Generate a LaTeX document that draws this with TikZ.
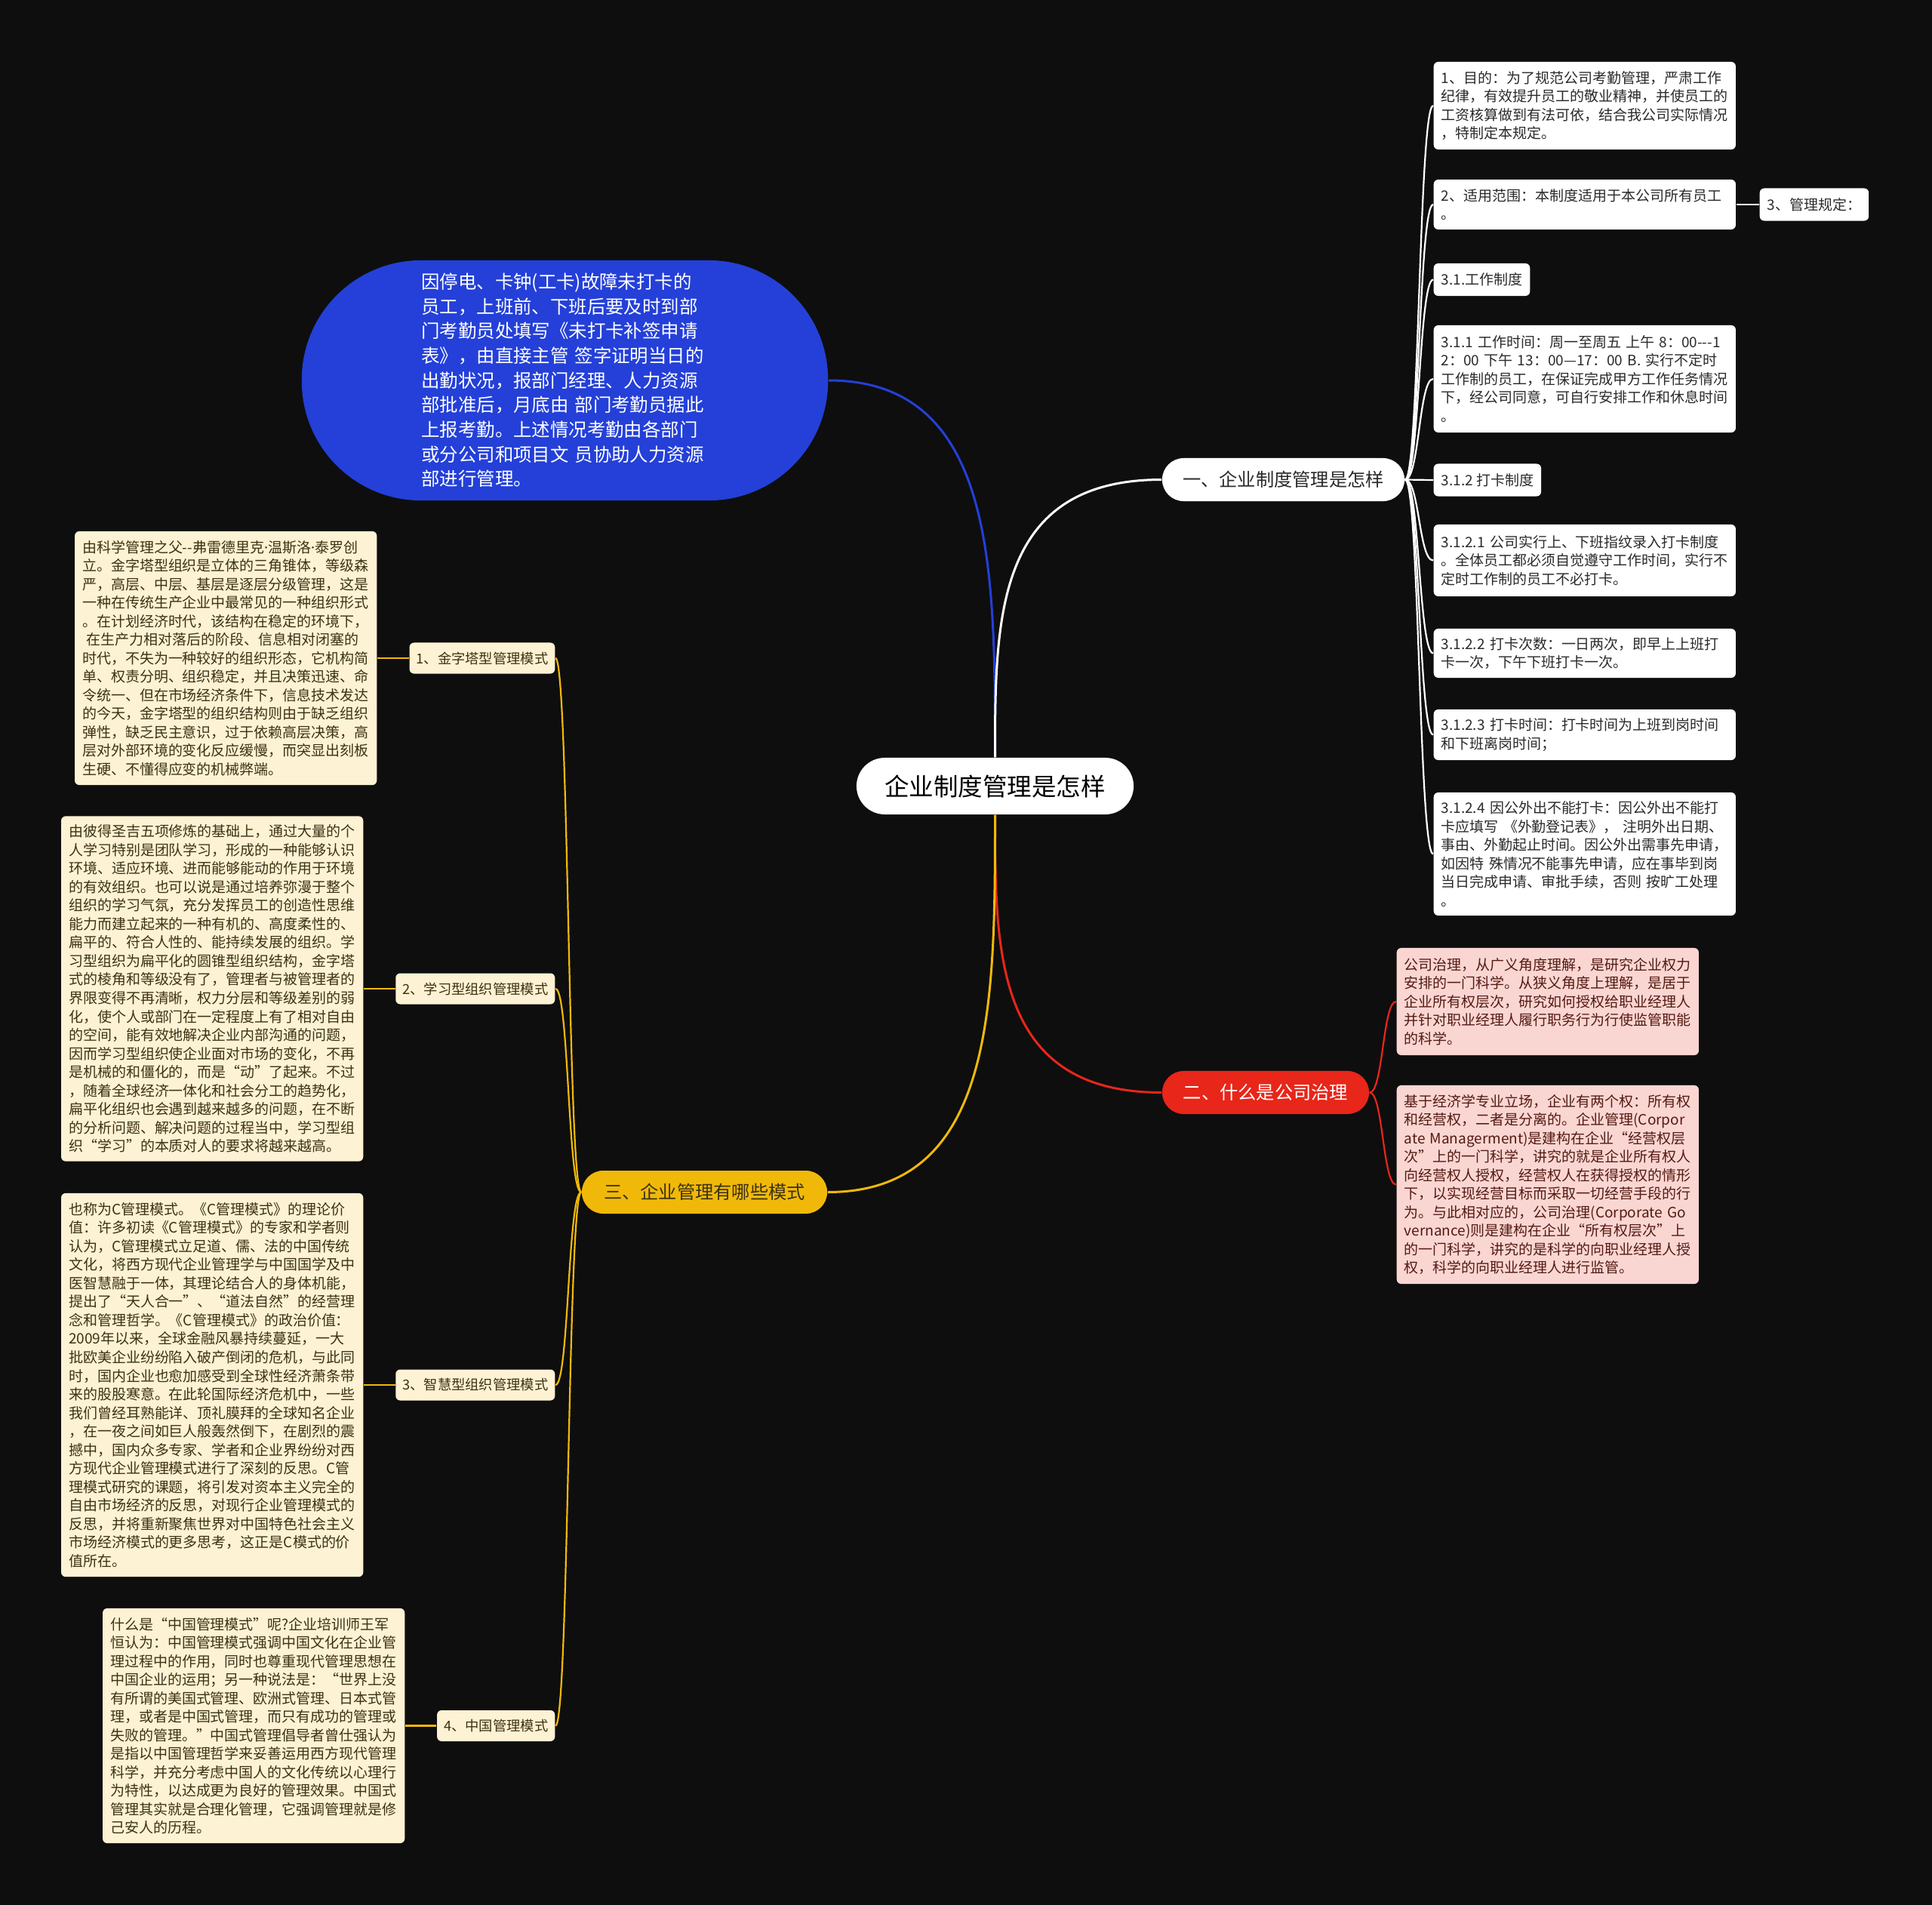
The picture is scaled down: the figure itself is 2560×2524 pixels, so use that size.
\documentclass[tikz,border=0pt]{standalone}
\usepackage{fontspec}
\usepackage{tikz}
\usetikzlibrary{calc}
\newfontfamily\cjk{Noto Sans CJK SC}
\newfontfamily\latinfont{Noto Sans}
\definecolor{bgdark}{RGB}{14,14,14}
\definecolor{blobblue}{RGB}{36,64,216}
\definecolor{branchred}{RGB}{232,38,26}
\definecolor{branchgold}{RGB}{240,185,10}
\definecolor{leafpink}{RGB}{250,214,210}
\definecolor{leafcream}{RGB}{253,242,212}
\definecolor{inkred}{RGB}{84,26,18}
\definecolor{inkbrown}{RGB}{60,50,18}
\definecolor{inkgray}{RGB}{42,42,42}
\newcommand{\middot}{{\latinfont ·}}

\begin{document}
\begin{tikzpicture}[x=0.01cm,y=-0.01cm,
  rootnode/.style={
    fill=white, text=black, rounded corners=0.375cm,
    minimum width=3.67cm, minimum height=0.75cm, inner sep=0pt,
    font=\cjk\fontsize{9.25}{11}\selectfont
  },
  blobnode/.style={
    fill=blobblue, text=white, rounded corners=1.58cm,
    minimum width=6.97cm, minimum height=3.18cm,
    text width=3.8cm, align=left,
    font=\cjk\fontsize{6.94}{9.29}\selectfont
  },
  topic/.style={
    rounded corners=0.285cm, minimum height=0.57cm, inner sep=0pt,
    font=\cjk\fontsize{6.9}{8}\selectfont
  },
  topicwhite/.style={topic, fill=white, text=inkgray},
  topicred/.style={topic, fill=branchred, text=white},
  topicgold/.style={topic, fill=branchgold, text=inkbrown},
  leaf/.style={
    rounded corners=0.06cm, inner xsep=0.1cm, inner ysep=0pt,
    minimum height=0.43cm, align=left,
    font=\cjk\fontsize{5.4}{6.97}\selectfont
  },
  longleaf/.style={leaf, text width=3.8cm},
  whiteleaf/.style={fill=white, text=inkgray, anchor=west},
  pinkleaf/.style={fill=leafpink, text=inkred, anchor=west},
  creamleaf/.style={fill=leafcream, text=inkbrown, anchor=east},
  modetag/.style={
    leaf, fill=leafcream, text=inkbrown, anchor=east,
    inner xsep=0.09cm, minimum height=0.41cm,
    font=\cjk\fontsize{5.2}{6.5}\selectfont
  },
  rootline/.style={line width=0.03cm},
  twig/.style={line width=0.022cm}
]
\fill[bgdark] (0,0) rectangle (2560,2524);
\useasboundingbox (0,0) rectangle (2560,2524);

\node[rootnode] (root) at (1318.5,1041.5) {企业制度管理是怎样};

\node[blobnode] (blob) at (748.5,504)
  {因停电、卡钟(工卡)故障未打卡的\\
   员工，上班前、下班后要及时到部\\
   门考勤员处填写《未打卡补签申请\\
   表》，由直接主管 签字证明当日的\\
   出勤状况，报部门经理、人力资源\\
   部批准后，月底由 部门考勤员据此\\
   上报考勤。上述情况考勤由各部门\\
   或分公司和项目文 员协助人力资源\\
   部进行管理。};

\node[topicwhite, minimum width=3.21cm] (b1) at (1700.5,635.5) {一、企业制度管理是怎样};
\node[topicred, minimum width=2.74cm] (b2) at (1677,1447.5) {二、什么是公司治理};
\node[topicgold, minimum width=3.25cm] (b3) at (933.5,1579.5) {三、企业管理有哪些模式};

% branch one
\node[longleaf, whiteleaf, minimum height=1.16cm] (r1) at (1899,140)
  {1、目的：为了规范公司考勤管理，严肃工作\\
   纪律，有效提升员工的敬业精神，并使员工的\\
   工资核算做到有法可依，结合我公司实际情况\\
   ，特制定本规定。};
\node[longleaf, whiteleaf, minimum height=0.66cm] (r2) at (1899,271)
  {2、适用范围：本制度适用于本公司所有员工\\
   。};
\node[leaf, whiteleaf] (r3) at (2331,271) {3、管理规定：};
\node[leaf, whiteleaf] (r31) at (1899,370.5) {3.1.工作制度};
\node[longleaf, whiteleaf, minimum height=1.42cm] (r311) at (1899,502)
  {3.1.1 工作时间：周一至周五 上午 8：00---1\\
   2：00 下午 13：00—17：00 B. 实行不定时\\
   工作制的员工，在保证完成甲方工作任务情况\\
   下，经公司同意，可自行安排工作和休息时间\\
   。};
\node[leaf, whiteleaf] (r312) at (1899,636) {3.1.2 打卡制度};
\node[longleaf, whiteleaf, minimum height=0.95cm] (r3121) at (1899,742.5)
  {3.1.2.1 公司实行上、下班指纹录入打卡制度\\
   。全体员工都必须自觉遵守工作时间，实行不\\
   定时工作制的员工不必打卡。};
\node[longleaf, whiteleaf, minimum height=0.65cm] (r3122) at (1899,865.5)
  {3.1.2.2 打卡次数：一日两次，即早上上班打\\
   卡一次，下午下班打卡一次。};
\node[longleaf, whiteleaf, minimum height=0.67cm] (r3123) at (1899,973.5)
  {3.1.2.3 打卡时间：打卡时间为上班到岗时间\\
   和下班离岗时间；};
\node[longleaf, whiteleaf, minimum height=1.63cm] (r3124) at (1899,1131.5)
  {3.1.2.4 因公外出不能打卡：因公外出不能打\\
   卡应填写 《外勤登记表》， 注明外出日期、\\
   事由、外勤起止时间。因公外出需事先申请，\\
   如因特 殊情况不能事先申请，应在事毕到岗\\
   当日完成申请、审批手续，否则 按旷工处理\\
   。};

% branch two
\node[longleaf, pinkleaf, minimum height=1.42cm] (ra) at (1850,1327)
  {公司治理，从广义角度理解，是研究企业权力\\
   安排的一门科学。从狭义角度上理解，是居于\\
   企业所有权层次，研究如何授权给职业经理人\\
   并针对职业经理人履行职务行为行使监管职能\\
   的科学。};
\node[longleaf, pinkleaf, minimum height=2.63cm] (rb) at (1850,1569.5)
  {基于经济学专业立场，企业有两个权：所有权\\
   和经营权，二者是分离的。企业管理(Corpor\\
   ate Managerment)是建构在企业“经营权层\\
   次”上的一门科学，讲究的就是企业所有权人\\
   向经营权人授权，经营权人在获得授权的情形\\
   下，以实现经营目标而采取一切经营手段的行\\
   为。与此相对应的，公司治理(Corporate Go\\
   vernance)则是建构在企业“所有权层次”上\\
   的一门科学，讲究的是科学的向职业经理人授\\
   权，科学的向职业经理人进行监管。};

% branch three
\node[modetag] (y1) at (736,872) {1、金字塔型管理模式};
\node[modetag] (y2) at (736,1310) {2、学习型组织管理模式};
\node[modetag] (y3) at (736,1835) {3、智慧型组织管理模式};
\node[modetag] (y4) at (736,2286.5) {4、中国管理模式};

\node[longleaf, creamleaf, minimum height=3.36cm] (l1) at (500,872)
  {\mbox{由科学管理之父--弗雷德里克\middot 温斯洛\middot 泰罗创}\\
   立。金字塔型组织是立体的三角锥体，等级森\\
   严，高层、中层、基层是逐层分级管理，这是\\
   一种在传统生产企业中最常见的一种组织形式\\
   。在计划经济时代，该结构在稳定的环境下，\\
   \hspace*{0.3em}在生产力相对落后的阶段、信息相对闭塞的\\
   时代，不失为一种较好的组织形态，它机构简\\
   单、权责分明、组织稳定，并且决策迅速、命\\
   令统一、但在市场经济条件下，信息技术发达\\
   的今天，金字塔型的组织结构则由于缺乏组织\\
   弹性，缺乏民主意识，过于依赖高层决策，高\\
   层对外部环境的变化反应缓慢，而突显出刻板\\
   生硬、不懂得应变的机械弊端。};
\node[longleaf, creamleaf, minimum height=4.57cm] (l2) at (482,1310)
  {由彼得圣吉五项修炼的基础上，通过大量的个\\
   人学习特别是团队学习，形成的一种能够认识\\
   环境、适应环境、进而能够能动的作用于环境\\
   的有效组织。也可以说是通过培养弥漫于整个\\
   组织的学习气氛，充分发挥员工的创造性思维\\
   能力而建立起来的一种有机的、高度柔性的、\\
   扁平的、符合人性的、能持续发展的组织。学\\
   习型组织为扁平化的圆锥型组织结构，金字塔\\
   式的棱角和等级没有了，管理者与被管理者的\\
   界限变得不再清晰，权力分层和等级差别的弱\\
   化，使个人或部门在一定程度上有了相对自由\\
   的空间，能有效地解决企业内部沟通的问题，\\
   因而学习型组织使企业面对市场的变化，不再\\
   是机械的和僵化的，而是“动”了起来。不过\\
   ，随着全球经济一体化和社会分工的趋势化，\\
   扁平化组织也会遇到越来越多的问题，在不断\\
   的分析问题、解决问题的过程当中，学习型组\\
   织“学习”的本质对人的要求将越来越高。};
\node[longleaf, creamleaf, minimum height=5.08cm] (l3) at (482,1835)
  {也称为C管理模式。《C管理模式》的理论价\\
   值：许多初读《C管理模式》的专家和学者则\\
   认为，C管理模式立足道、儒、法的中国传统\\
   文化，将西方现代企业管理学与中国国学及中\\
   医智慧融于一体，其理论结合人的身体机能，\\
   提出了“天人合一”、“道法自然”的经营理\\
   念和管理哲学。《C管理模式》的政治价值：\\
   2009年以来，全球金融风暴持续蔓延，一大\\
   批欧美企业纷纷陷入破产倒闭的危机，与此同\\
   时，国内企业也愈加感受到全球性经济萧条带\\
   来的股股寒意。在此轮国际经济危机中，一些\\
   我们曾经耳熟能详、顶礼膜拜的全球知名企业\\
   ，在一夜之间如巨人般轰然倒下，在剧烈的震\\
   撼中，国内众多专家、学者和企业界纷纷对西\\
   方现代企业管理模式进行了深刻的反思。C管\\
   理模式研究的课题，将引发对资本主义完全的\\
   自由市场经济的反思，对现行企业管理模式的\\
   反思，并将重新聚焦世界对中国特色社会主义\\
   市场经济模式的更多思考，这正是C模式的价\\
   值所在。};
\node[longleaf, creamleaf, minimum height=3.11cm] (l4) at (537,2286.5)
  {什么是“中国管理模式”呢?企业培训师王军\\
   恒认为：中国管理模式强调中国文化在企业管\\
   理过程中的作用，同时也尊重现代管理思想在\\
   中国企业的运用；另一种说法是：“世界上没\\
   有所谓的美国式管理、欧洲式管理、日本式管\\
   理，或者是中国式管理，而只有成功的管理或\\
   失败的管理。”中国式管理倡导者曾仕强认为\\
   是指以中国管理哲学来妥善运用西方现代管理\\
   科学，并充分考虑中国人的文化传统以心理行\\
   为特性，以达成更为良好的管理效果。中国式\\
   管理其实就是合理化管理，它强调管理就是修\\
   己安人的历程。};

% connectors
\draw[rootline, blobblue] (root.north)
  .. controls ($(root.north)!0.5!(root.north |- blob.east)$) and (root.north |- blob.east) .. (blob.east);
\draw[rootline, white] (root.north)
  .. controls ($(root.north)!0.5!(root.north |- b1.west)$) and (root.north |- b1.west) .. (b1.west);
\draw[rootline, branchred] (root.south)
  .. controls ($(root.south)!0.5!(root.south |- b2.west)$) and (root.south |- b2.west) .. (b2.west);
\draw[rootline, branchgold] (root.south)
  .. controls ($(root.south)!0.5!(root.south |- b3.east)$) and (root.south |- b3.east) .. (b3.east);

\foreach \leafname in {r1,r2,r31,r311,r312,r3121,r3122,r3123,r3124}
  \draw[twig, white] (b1.east) .. controls +(19,0) and +(-19,0) .. (\leafname.west);
\draw[twig, white] (r2.east) -- (r3.west);

\foreach \leafname in {ra,rb}
  \draw[twig, branchred] (b2.east) .. controls +(18,0) and +(-18,0) .. (\leafname.west);

\foreach \leafname in {y1,y2,y3,y4}
  \draw[twig, branchgold] (b3.west) .. controls +(-18,0) and +(18,0) .. (\leafname.east);
\foreach \tagname/\boxname in {y1/l1,y2/l2,y3/l3,y4/l4}
  \draw[twig, branchgold] (\tagname.west) -- (\boxname.east);
\end{tikzpicture}
\end{document}
